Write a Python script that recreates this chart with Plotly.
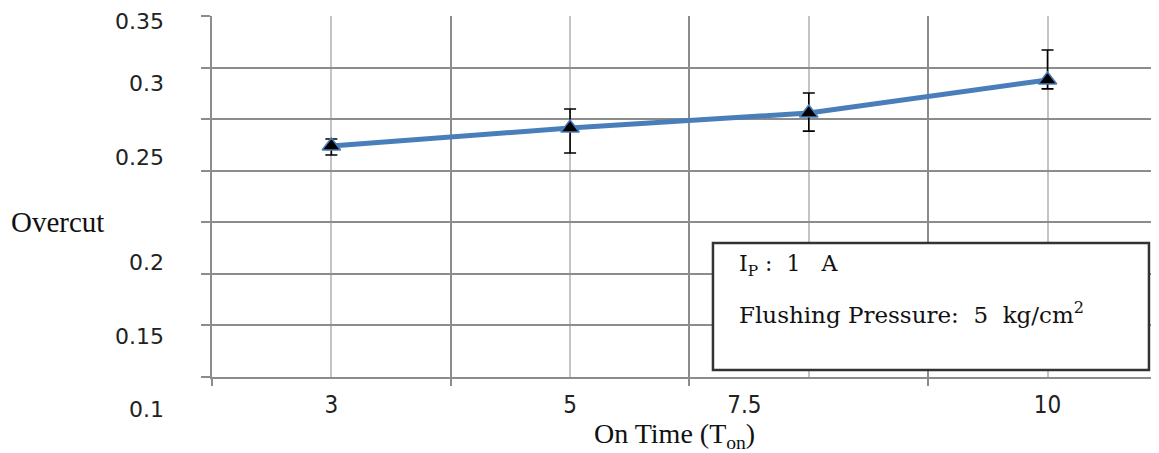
import plotly.graph_objects as go

# ---- data ----
categories = ["3", "5", "7.5", "10"]
x_index = [0, 1, 2, 3]
overcut = [0.260, 0.2724, 0.2828, 0.3057]
err_plus = [0.0048, 0.0132, 0.0139, 0.0208]
err_minus = [0.0063, 0.0173, 0.0125, 0.0062]

# tick label text / placement (as drawn in the reference)
x_label_pos = [0, 1, 1.73, 3]
y_label_text = ["0.35", "0.3", "0.25", "0.2", "0.15", "0.1"]
y_label_paper = [0.984, 0.814, 0.609, 0.316, 0.111, -0.091]

y_min, y_max = 0.1, 0.35
y_grid = [y_min + k * (y_max - y_min) / 7 for k in range(8)]
x_major = [-0.5, 0.5, 1.5, 2.5, 3.5]
x_range = [-0.5, 3.467]

GRID = "#8c8c8c"
GRID_LIGHT = "#c4c4c4"
BLUE = "#4a7ebb"

fig = go.Figure()
fig.add_trace(go.Scatter(
    x=x_index, y=overcut, mode="lines+markers",
    line=dict(color=BLUE, width=5),
    marker=dict(symbol="triangle-up", size=16, color="black",
                line=dict(color=BLUE, width=1.5)),
    error_y=dict(type="data", symmetric=False, array=err_plus,
                 arrayminus=err_minus, color="black", thickness=1.6, width=6),
    cliponaxis=False, showlegend=False, hoverinfo="skip",
))
# helper trace so the label axis is drawn
fig.add_trace(go.Scatter(x=[x_index[0]], y=[overcut[0]], xaxis="x2",
                         mode="markers", marker=dict(opacity=0),
                         showlegend=False, hoverinfo="skip"))

annotations = []
for txt, yp in zip(y_label_text, y_label_paper):
    annotations.append(dict(
        text=txt, xref="paper", yref="paper", x=0, y=yp, xshift=-47,
        xanchor="right", yanchor="middle", showarrow=False, borderpad=0,
        font=dict(family="DejaVu Sans", size=22, color="#222222")))
annotations.append(dict(
    text="Overcut", xref="paper", yref="paper", x=-0.2144, y=0.429,
    xanchor="left", yanchor="middle", showarrow=False,
    font=dict(family="Liberation Serif", size=29, color="#111111")))
annotations.append(dict(
    text="On Time (T<sub>on</sub>)", xref="paper", yref="paper",
    x=0.488, y=-0.163, xanchor="center", yanchor="middle", showarrow=False,
    borderpad=0,
    font=dict(family="Liberation Serif", size=28, color="#111111")))
annotations.append(dict(
    text="I<sub>P</sub> :  1   A", xref="paper", yref="paper", x=0.5544, y=0.310,
    xanchor="left", yanchor="middle", showarrow=False,
    font=dict(family="DejaVu Serif", size=22, color="#111111")))
annotations.append(dict(
    text="Flushing Pressure:  5  kg/cm<sup>2</sup>", xref="paper", yref="paper",
    x=0.5544, y=0.177, xanchor="left", yanchor="middle", showarrow=False,
    font=dict(family="DejaVu Serif", size=23, color="#111111")))

# the page body adds an 8 px margin, so the figure is sized to compensate
fig.update_layout(
    width=1151, height=445,
    margin=dict(l=204, r=0, t=8, b=76, pad=0),
    paper_bgcolor="white", plot_bgcolor="white",
    xaxis=dict(
        range=x_range, tickmode="array", tickvals=x_major,
        showticklabels=False,
        showgrid=True, gridcolor=GRID, gridwidth=1.5,
        ticks="outside", ticklen=7, tickcolor=GRID, tickwidth=1.5,
        showline=True, linecolor=GRID, linewidth=1.5, zeroline=False,
        minor=dict(tickmode="array", tickvals=x_index, showgrid=True,
                   gridcolor=GRID_LIGHT, gridwidth=1.5, ticks=""),
    ),
    xaxis2=dict(
        overlaying="x", anchor="y", side="bottom", range=x_range,
        tickmode="array", tickvals=x_label_pos, ticktext=categories,
        showgrid=False, showline=False, zeroline=False, ticks="",
        ticklabelstandoff=11,
        tickfont=dict(family="DejaVu Sans Condensed, Liberation Sans Narrow, DejaVu Sans",
                      size=24, color="#222222"),
    ),
    yaxis=dict(
        range=[y_min, y_max], tickmode="array", tickvals=y_grid,
        showticklabels=False, showgrid=True, gridcolor=GRID, gridwidth=1.5,
        ticks="outside", ticklen=9, tickcolor=GRID, tickwidth=1.5,
        showline=True, linecolor=GRID, linewidth=1.5, zeroline=False,
    ),
    shapes=[dict(type="rect", xref="paper", yref="paper",
                 x0=0.529, x1=0.9894, y0=0.0194, y1=0.371,
                 line=dict(color="#333333", width=2.5), fillcolor="white",
                 layer="above")],
    annotations=annotations,
)

fig.write_html("out.html")
